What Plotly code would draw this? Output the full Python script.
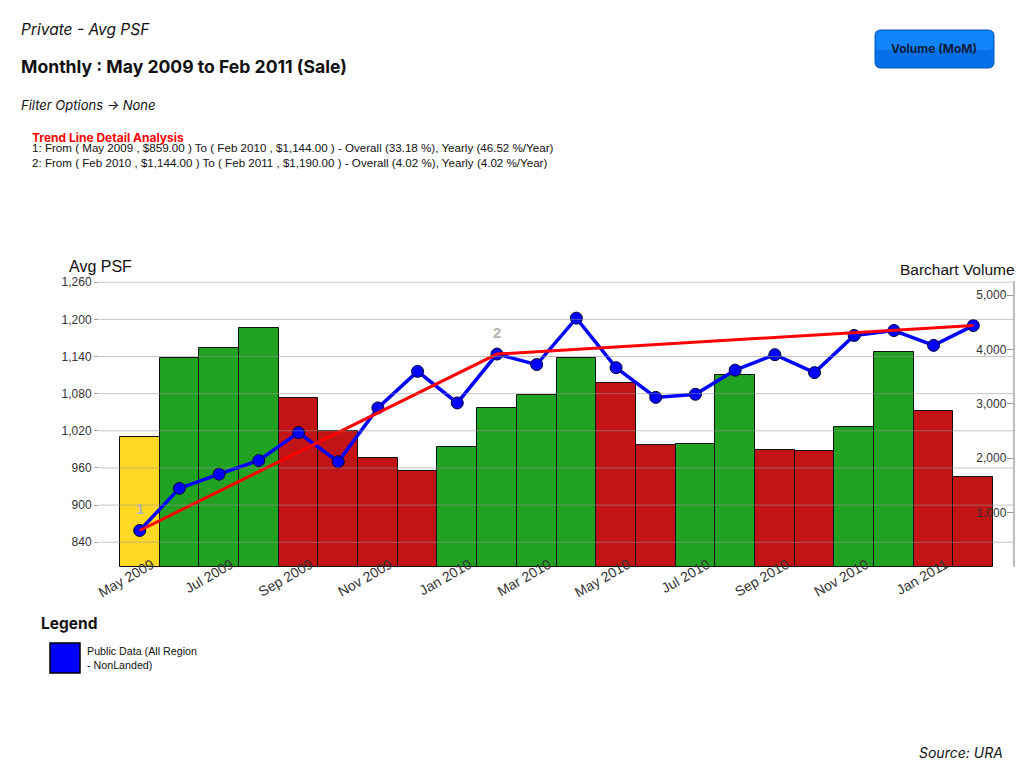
import plotly.graph_objects as go

months = ["May 2009", "Jun 2009", "Jul 2009", "Aug 2009", "Sep 2009", "Oct 2009",
          "Nov 2009", "Dec 2009", "Jan 2010", "Feb 2010", "Mar 2010", "Apr 2010",
          "May 2010", "Jun 2010", "Jul 2010", "Aug 2010", "Sep 2010", "Oct 2010",
          "Nov 2010", "Dec 2010", "Jan 2011", "Feb 2011"]
volume = [2400, 3850, 4020, 4390, 3100, 2510, 2000, 1760, 2200, 2920, 3170, 3840,
          3390, 2240, 2260, 3540, 2150, 2130, 2570, 3960, 2860, 1650]
avg_psf = [859, 927, 950, 972, 1017, 970, 1057, 1116, 1065, 1144, 1127, 1202,
           1122, 1074, 1079, 1118, 1143, 1114, 1174, 1182, 1158, 1190]
trend_months = ["May 2009", "Feb 2010", "Feb 2011"]
trend_values = [859, 1144, 1190]
trend_labels = ["1", "2"]
tick_months = months[::2]
left_ticks = [840, 900, 960, 1020, 1080, 1140, 1200, 1260]
right_ticks = [0, 1000, 2000, 3000, 4000, 5000]

YELLOW, GREEN, RED = "#FFD924", "#21A321", "#C11414"
bar_colors = [YELLOW] + [GREEN if volume[i] >= volume[i - 1] else RED for i in range(1, len(volume))]

FONT = "Liberation Sans"
HFONT = "Inter"

fig = go.Figure()
fig.add_trace(go.Bar(x=months, y=volume, marker=dict(color=bar_colors, line=dict(color="#111", width=1)),
                     width=1.0, yaxis="y", showlegend=False))
fig.add_trace(go.Scatter(x=months, y=avg_psf, mode="lines+markers", yaxis="y2",
                         line=dict(color="#0000FF", width=3.5),
                         marker=dict(size=12, color="#0000FF", line=dict(color="#000033", width=1)),
                         showlegend=False))
fig.add_trace(go.Scatter(x=trend_months, y=trend_values, mode="lines", yaxis="y2",
                         line=dict(color="#FF0000", width=3), showlegend=False))

for lab, m, v in zip(trend_labels, trend_months[:2], trend_values[:2]):
    fig.add_annotation(x=m, y=v, xref="x", yref="y2", text="<b>" + lab + "</b>", showarrow=False, yshift=22,
                       font=dict(family=FONT, size=15, color="#B4B4B4"))

# horizontal grid lines drawn over the bars (as in the reference)
for t in left_ticks:
    fig.add_shape(type="line", xref="x domain", yref="y2", x0=0, x1=1, y0=t, y1=t,
                  line=dict(color="rgba(150,150,150,0.55)", width=1), layer="above")

fig.update_layout(
    width=1008, height=752, plot_bgcolor="white", paper_bgcolor="white",
    margin=dict(l=92, r=3, t=273, b=193), bargap=0,
    xaxis=dict(type="category", range=[-1, 22], tickmode="array", tickvals=tick_months, ticktext=tick_months,
               tickangle=-30, tickfont=dict(family=FONT, size=14, color="#333"), showgrid=False,
               ticks="", showline=False, ticklabelstandoff=-14, ticklabelshift=12),
    yaxis=dict(side="right", range=[0, 5260], tickvals=right_ticks, tickformat=",", showgrid=False,
               ticklabelposition="inside", ticks="inside", ticklen=6, tickcolor="#999",
               showline=True, linecolor="#BBB", linewidth=2,
               tickfont=dict(family=FONT, size=12, color="#333"), zeroline=False),
    yaxis2=dict(side="left", overlaying="y", range=[800, 1262], tickvals=left_ticks, tickformat=",",
                showgrid=False, ticks="outside", ticklen=5, tickcolor="#AAA",
                showline=False, zeroline=False, tickfont=dict(family=FONT, size=12, color="#333")),
)

# positions given in reference-page pixels; plot area spans x 100..1013, y 281..567
def px_x(x):
    return (x - 100) / 913

def px_y(y):
    return (567 - y) / 286

def ann_px(x, y, text, size, color="#111", family=HFONT, xanchor="left", yanchor="middle"):
    fig.add_annotation(x=px_x(x), y=px_y(y), xref="paper", yref="paper",
                       text=text, showarrow=False, xanchor=xanchor, yanchor=yanchor, align="left",
                       font=dict(family=family, size=size, color=color))

ann_px(19, 30, "<i>Private - Avg PSF</i>", 15.5)
ann_px(19, 66, "<b>Monthly : May 2009 to Feb 2011 (Sale)</b>", 17.6)
ann_px(19, 105, "<i>Filter Options → None</i>", 13)
ann_px(30, 137, "<b>Trend Line Detail Analysis</b>", 12, color="#FF0000")
ann_px(30, 147, "1: From ( May 2009 , $859.00 ) To ( Feb 2010 , $1,144.00 ) - Overall (33.18 %), Yearly (46.52 %/Year)", 11.6, family=FONT)
ann_px(30, 162, "2: From ( Feb 2010 , $1,144.00 ) To ( Feb 2011 , $1,190.00 ) - Overall (4.02 %), Yearly (4.02 %/Year)", 11.6, family=FONT)
ann_px(67, 266, "Avg PSF", 16, family=FONT)
ann_px(1017, 269, "Barchart Volume", 15.5, family=FONT, xanchor="right")
ann_px(39, 623, "<b>Legend</b>", 15.5)
ann_px(85, 658, "Public Data (All Region<br>- NonLanded)", 10.7, family=FONT)
ann_px(1005, 752, "<i>Source: URA</i>", 14, xanchor="right")
ann_px(934, 49, "<b>Volume (MoM)</b>", 12, color="#0B1D3A", xanchor="center")

# button
def rounded(x0, y0, x1, y1, r):
    return (f"M {px_x(x0+r)},{px_y(y0)} L {px_x(x1-r)},{px_y(y0)} Q {px_x(x1)},{px_y(y0)} {px_x(x1)},{px_y(y0+r)} "
            f"L {px_x(x1)},{px_y(y1-r)} Q {px_x(x1)},{px_y(y1)} {px_x(x1-r)},{px_y(y1)} "
            f"L {px_x(x0+r)},{px_y(y1)} Q {px_x(x0)},{px_y(y1)} {px_x(x0)},{px_y(y1-r)} "
            f"L {px_x(x0)},{px_y(y0+r)} Q {px_x(x0)},{px_y(y0)} {px_x(x0+r)},{px_y(y0)} Z")

fig.add_shape(type="path", path=rounded(875, 30, 994, 68, 6), xref="paper", yref="paper", fillcolor="#0670E8",
              line=dict(color="#0058C0", width=1), layer="below")
fig.add_shape(type="path", path=rounded(876, 31, 993, 50, 5), xref="paper", yref="paper", fillcolor="#1284FA",
              line=dict(width=0), layer="below")
# legend swatch
fig.add_shape(type="rect", xref="paper", yref="paper", x0=px_x(50), x1=px_x(80), y0=px_y(673), y1=px_y(643),
              fillcolor="#0000FF", line=dict(color="#000", width=1.5))

fig.write_html("out.html")
